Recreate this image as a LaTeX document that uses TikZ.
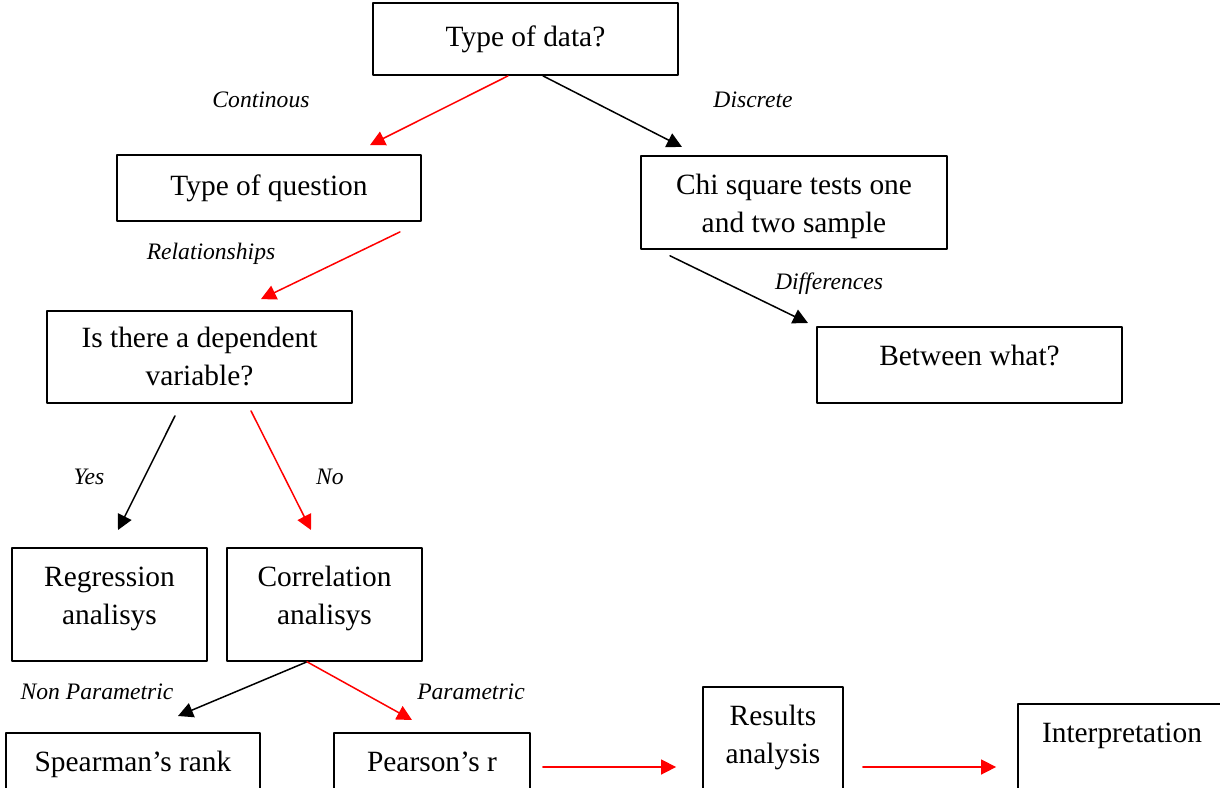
\documentclass[tikz,border=0pt]{standalone}
\usepackage{fontspec}
\setmainfont{Liberation Serif}
\usetikzlibrary{arrows.meta,calc}
\newcommand{\toptext}[3]{\parbox[c][#2][t]{#1}{\centering\rule{0pt}{19.5pt}#3}}

\begin{document}
\begin{tikzpicture}[line cap=round,line join=round,x=0.5pt,y=-0.5pt,
  >={Triangle[length=7.5pt,width=7.5pt]},
  box/.style={draw,line width=0.9pt,align=center,inner sep=0pt,font=\fontsize{14.7}{19}\selectfont},
  tbox/.style={draw,line width=0.9pt,inner sep=0pt,anchor=north,font=\fontsize{14.7}{19}\selectfont},
  lab/.style={font=\fontsize{11.8}{14}\selectfont\itshape},
  redarr/.style={->,red,line width=0.75pt},
  blackarr/.style={->,black,line width=0.75pt}]
		\useasboundingbox (0,0) rectangle (1220,787);
		\clip (0,0) rectangle (1220,787);
		% boxes
		\node[box,minimum width=152.5pt,minimum height=36pt] (data) at (525.5,39) {Type of data?};
		\node[box,minimum width=152pt,minimum height=33pt] (question) at (269,188) {Type of question};
		\node[tbox] (chi) at (794,155) {\toptext{153pt}{46.5pt}{Chi square tests one\\and two sample}};
		\node[box,minimum width=152.5pt,minimum height=46pt] (dep) at (199.5,357) {Is there a dependent\\variable?};
		\node[tbox] (between) at (969.5,326) {\toptext{152.5pt}{38pt}{Between what?}};
		\node[tbox] (reg) at (109.5,547) {\toptext{97.5pt}{56.5pt}{Regression\\analisys}};
		\node[tbox] (corr) at (324.5,547) {\toptext{97.5pt}{56.5pt}{Correlation\\analisys}};
		\node[tbox] (spear) at (133,732) {\toptext{127pt}{40pt}{Spearman's rank}};
		\node[tbox] (pear) at (432,732) {\toptext{98pt}{40pt}{Pearson's r}};
		\node[tbox] (results) at (773,686) {\toptext{70pt}{55pt}{Results\\analysis}};
		\node[tbox] (interp) at (1122,703) {\toptext{104pt}{50pt}{Interpretation}};
		% arrows
		\draw[redarr] ($(data.south)+(-17.5,0)$) -- ($(question.north)+(101,-9)$);
		\draw[blackarr] ($(data.south)+(17.5,0)$) -- ($(chi.north)+(-112,-8)$);
		\draw[redarr] ($(question.south)+(131,10)$) -- ($(dep.north)+(61.5,-11)$);
		\draw[blackarr] ($(chi.south)+(-124,6)$) -- ($(between.north)+(-161.5,-3)$);
		\draw[blackarr] ($(dep.south)+(-24.5,12)$) -- ($(reg.north)+(8.5,-17)$);
		\draw[redarr] ($(dep.south)+(51.5,7)$) -- ($(corr.north)+(-13.5,-17)$);
		\draw[blackarr] ($(corr.south)+(-17.5,0)$) -- ($(spear.north)+(45,-16)$);
		\draw[redarr] ($(corr.south)+(-17.5,0)$) -- ($(pear.north)+(-20,-12)$);
		\draw[redarr] ($(pear.north east)+(12,35)$) -- ($(results.north west)+(-26,81)$);
		\draw[redarr] ($(results.north east)+(19,81)$) -- ($(interp.north west)+(-21,64)$);
		% labels
		\node[lab] (l-cont) at (261,100) {Continous};
		\node[lab] (l-disc) at (753,100) {Discrete};
		\node[lab] (l-rel) at (211,254) {Relationships};
		\node[lab] (l-diff) at (829,284) {Differences};
		\node[lab] (l-yes) at (89,477) {Yes};
		\node[lab] (l-no) at (330,477) {No};
		\node[lab] (l-nonpar) at (97,692) {Non Parametric};
		\node[lab] (l-par) at (471,692) {Parametric};
	\end{tikzpicture}
\end{document}
